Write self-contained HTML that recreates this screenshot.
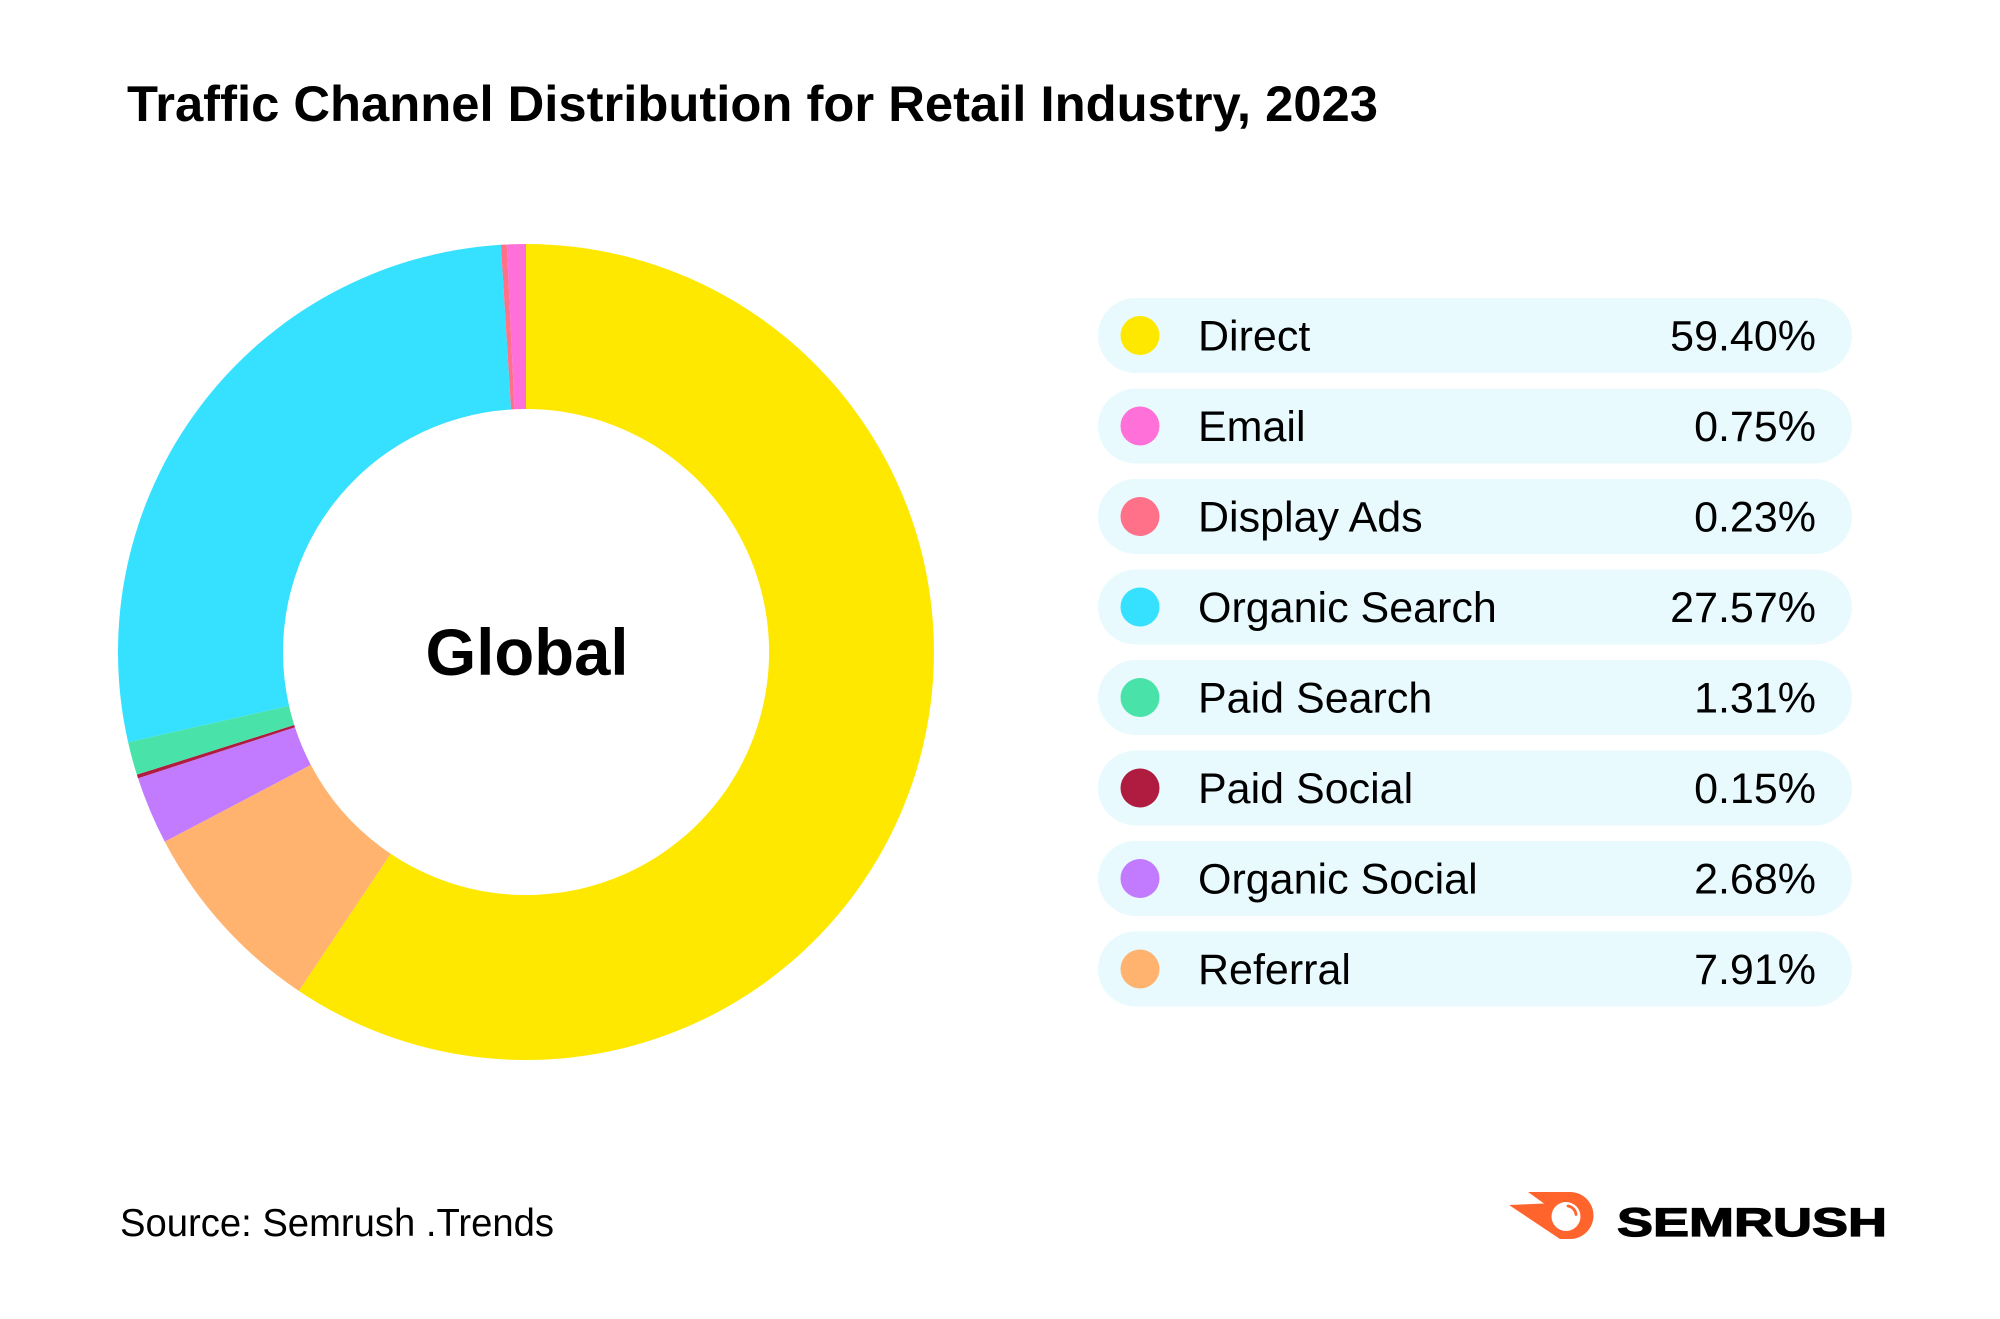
<!DOCTYPE html>
<html>
<head>
<meta charset="utf-8">
<style>
  html, body { margin:0; padding:0; background:#ffffff; }
  body { width:2000px; height:1319px; overflow:hidden; }
  svg { display:block; }
  text { font-family: "Liberation Sans", "DejaVu Sans", sans-serif; fill:#000; }
</style>
</head>
<body>
<svg width="2000" height="1319" viewBox="0 0 2000 1319" xmlns="http://www.w3.org/2000/svg">
  <rect x="0" y="0" width="2000" height="1319" fill="#ffffff"/>

  <!-- Title -->
  <text x="127" y="121" font-size="50" font-weight="bold" textLength="1251" lengthAdjust="spacingAndGlyphs">Traffic Channel Distribution for Retail Industry, 2023</text>

  <!-- Donut -->
  <g>
    <path fill="#FEE800" d="M 526 244 A 408 408 0 1 1 298.8 990.9 L 390.7 853.8 A 243 243 0 1 0 526 409 Z"/>
    <path fill="#FFB36E" d="M 298.8 990.9 A 408 408 0 0 1 164.7 841.6 L 310.8 764.9 A 243 243 0 0 0 390.7 853.8 Z"/>
    <path fill="#C27BFF" d="M 164.7 841.6 A 408 408 0 0 1 138.05 778.3 L 294.94 727.24 A 243 243 0 0 0 310.8 764.9 Z"/>
    <path fill="#AF1C40" d="M 138.05 778.3 A 408 408 0 0 1 136.86 774.67 L 294.23 725.06 A 243 243 0 0 0 294.94 727.24 Z"/>
    <path fill="#49E3A9" d="M 136.86 774.67 A 408 408 0 0 1 128.11 742.25 L 289.02 705.75 A 243 243 0 0 0 294.23 725.06 Z"/>
    <path fill="#36E0FF" d="M 128.11 742.25 A 408 408 0 0 1 500.89 244.77 L 511.05 409.46 A 243 243 0 0 0 289.02 705.75 Z"/>
    <path fill="#FF7089" d="M 500.89 244.77 A 408 408 0 0 1 506.78 244.45 L 514.55 409.27 A 243 243 0 0 0 511.05 409.46 Z"/>
    <path fill="#FF71D8" d="M 506.78 244.45 A 408 408 0 0 1 526 244 L 526 409 A 243 243 0 0 0 514.55 409.27 Z"/>
  </g>
  <text x="527" y="675" font-size="66" font-weight="bold" text-anchor="middle" textLength="203" lengthAdjust="spacingAndGlyphs">Global</text>

  <!-- Legend -->
  <g>
    <rect x="1098" y="298" width="754" height="75" rx="37.5" fill="#E8FAFE"/>
    <circle cx="1140" cy="335.5" r="19.5" fill="#FEE800"/>
    <text x="1198" y="350.7" font-size="43">Direct</text>
    <text x="1816" y="350.7" font-size="43" text-anchor="end">59.40%</text>

    <rect x="1098" y="388.5" width="754" height="75" rx="37.5" fill="#E8FAFE"/>
    <circle cx="1140" cy="426" r="19.5" fill="#FF71D8"/>
    <text x="1198" y="441.2" font-size="43">Email</text>
    <text x="1816" y="441.2" font-size="43" text-anchor="end">0.75%</text>

    <rect x="1098" y="479" width="754" height="75" rx="37.5" fill="#E8FAFE"/>
    <circle cx="1140" cy="516.5" r="19.5" fill="#FF7089"/>
    <text x="1198" y="531.7" font-size="43">Display Ads</text>
    <text x="1816" y="531.7" font-size="43" text-anchor="end">0.23%</text>

    <rect x="1098" y="569.5" width="754" height="75" rx="37.5" fill="#E8FAFE"/>
    <circle cx="1140" cy="607" r="19.5" fill="#36E0FF"/>
    <text x="1198" y="622.2" font-size="43">Organic Search</text>
    <text x="1816" y="622.2" font-size="43" text-anchor="end">27.57%</text>

    <rect x="1098" y="660" width="754" height="75" rx="37.5" fill="#E8FAFE"/>
    <circle cx="1140" cy="697.5" r="19.5" fill="#49E3A9"/>
    <text x="1198" y="712.7" font-size="43">Paid Search</text>
    <text x="1816" y="712.7" font-size="43" text-anchor="end">1.31%</text>

    <rect x="1098" y="750.5" width="754" height="75" rx="37.5" fill="#E8FAFE"/>
    <circle cx="1140" cy="788" r="19.5" fill="#AF1C40"/>
    <text x="1198" y="803.2" font-size="43">Paid Social</text>
    <text x="1816" y="803.2" font-size="43" text-anchor="end">0.15%</text>

    <rect x="1098" y="841" width="754" height="75" rx="37.5" fill="#E8FAFE"/>
    <circle cx="1140" cy="878.5" r="19.5" fill="#C27BFF"/>
    <text x="1198" y="893.7" font-size="43">Organic Social</text>
    <text x="1816" y="893.7" font-size="43" text-anchor="end">2.68%</text>

    <rect x="1098" y="931.5" width="754" height="75" rx="37.5" fill="#E8FAFE"/>
    <circle cx="1140" cy="969" r="19.5" fill="#FFB36E"/>
    <text x="1198" y="984.2" font-size="43">Referral</text>
    <text x="1816" y="984.2" font-size="43" text-anchor="end">7.91%</text>
  </g>

  <!-- Source -->
  <text x="120" y="1236" font-size="39" textLength="434" lengthAdjust="spacingAndGlyphs">Source: Semrush .Trends</text>

  <!-- Semrush logo -->
  <g>
    <path fill="#FF642D" d="M 1528 1192 L 1570 1192 A 23.5 23.5 0 0 1 1570 1239 L 1560 1239 L 1509 1205 L 1544 1203.5 Z"/>
    <circle cx="1566" cy="1216.5" r="14.5" fill="#ffffff"/>
    <path d="M 1568 1206 A 9.5 9.5 0 0 1 1576 1214.5" fill="none" stroke="#FF642D" stroke-width="2.8" stroke-linecap="round"/>
    <text x="1617" y="1236" font-size="40" font-weight="bold" stroke="#000" stroke-width="1.2" textLength="270" lengthAdjust="spacingAndGlyphs">SEMRUSH</text>
  </g>
</svg>
</body>
</html>
